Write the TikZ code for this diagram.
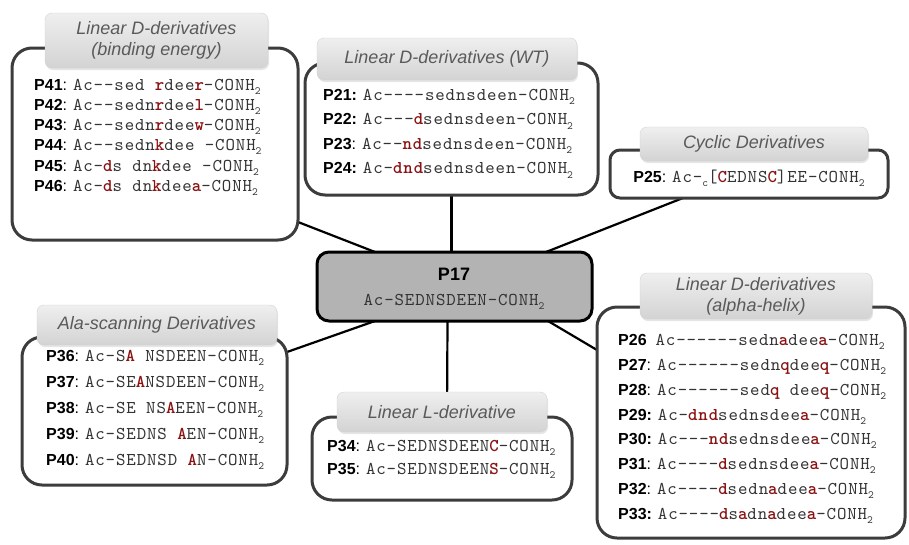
\documentclass[tikz,border=0pt]{standalone}
\usepackage{fontspec}
\setmainfont{Liberation Sans}
\setsansfont{Liberation Sans}
\newfontfamily\seqfont{lmmono10-regular.otf}[BoldFont=lmmonolt10-bold.otf,LetterSpace=5,Ligatures=TeXOff]
\usetikzlibrary{backgrounds,shadows}
\definecolor{boxline}{HTML}{3C3C3C}
\definecolor{dred}{HTML}{8A1212}
\definecolor{seqgray}{HTML}{333333}
\definecolor{titlegray}{HTML}{5A5A5A}
\definecolor{lbltop}{HTML}{EFEFEF}
\definecolor{lblbot}{HTML}{D3D3D3}
\definecolor{ctfill}{HTML}{B3B3B3}
\newcommand\rb[1]{{\bfseries\color{dred}#1}}
\newcommand\subtwo{\raisebox{-4.5pt}{\fontsize{11}{11}\selectfont 2}}
\newcommand\cnh{-CONH\subtwo}
\newcommand\sq[1]{{\seqfont\fontsize{18}{20}\selectfont\color{seqgray}#1}}
\tikzset{
  outerbox/.style={draw=boxline, line width=3pt, rounded corners=20pt, fill=white, inner sep=0pt, outer sep=0pt},
  lblbox/.style={rounded corners=7pt, top color=lbltop, bottom color=lblbot, draw=lblbot, line width=0.4pt,
    drop shadow={shadow xshift=1pt, shadow yshift=-2pt, opacity=0.2},
    font=\fontsize{18}{21}\selectfont\itshape, text=titlegray, align=center, inner sep=0pt},
  row/.style={anchor=base west, inner sep=0pt, font=\fontsize{16}{18}\selectfont, text=black},
  conn/.style={line width=2.2pt, black}
}
\begin{document}
\begin{tikzpicture}[x=1pt,y=-1pt]
\useasboundingbox (0,0) rectangle (909,544);
% outer boxes
\node[outerbox, minimum width=286pt, minimum height=192pt] (tl) at (155,144) {};
\node[outerbox, minimum width=293pt, minimum height=132pt] (tm) at (451.5,129) {};
\node[outerbox, rounded corners=10pt, minimum width=278pt, minimum height=48pt] (cy) at (749,174) {};
\node[outerbox, draw=black, fill=ctfill, rounded corners=12pt, minimum width=275pt, minimum height=69pt] (ct) at (454.5,286.5) {};
\node[outerbox, minimum width=265pt, minimum height=148pt] (bl) at (154.5,411) {};
\node[outerbox, minimum width=260pt, minimum height=83pt] (bm) at (442,458.5) {};
\node[outerbox, minimum width=308pt, minimum height=231pt] (br) at (751,422.5) {};
% label boxes
\node[lblbox, minimum width=223pt, minimum height=55pt] (tll) at (156.5,40.5) {Linear D-derivatives\\(binding energy)};
\node[lblbox, minimum width=260pt, minimum height=42pt] (tml) at (447,59) {Linear D-derivatives (WT)};
\node[lblbox, minimum width=228pt, minimum height=34pt] (cyl) at (754,144) {Cyclic Derivatives};
\node[lblbox, minimum width=240pt, minimum height=40pt] (bll) at (157,325) {Ala-scanning Derivatives};
\node[lblbox, minimum width=210pt, minimum height=40pt] (bml) at (442,412) {Linear L-derivative};
\node[lblbox, minimum width=232pt, minimum height=46pt] (brl) at (756,296) {Linear D-derivatives\\(alpha-helix)};
% center
\node[anchor=base, inner sep=0pt, font=\bfseries\fontsize{18}{20}\selectfont] (p17) at (454,280) {P17};
\node[anchor=base, inner sep=0pt] (p17s) at (454,305) {\sq{Ac-SEDNSDEEN\cnh}};
% top left rows
\node[row] (p41) at (34,90) {\textbf{P41}: \sq{Ac--sed \rb{r}dee\rb{r}\cnh}};
\node[row] (p42) at (34,110) {\textbf{P42}: \sq{Ac--sedn\rb{r}dee\rb{l}\cnh}};
\node[row] (p43) at (34,130) {\textbf{P43}: \sq{Ac--sedn\rb{r}dee\rb{w}\cnh}};
\node[row] (p44) at (34,150) {\textbf{P44}: \sq{Ac--sedn\rb{k}dee -CONH\subtwo}};
\node[row] (p45) at (34,171) {\textbf{P45}: \sq{Ac-\rb{d}s dn\rb{k}dee -CONH\subtwo}};
\node[row] (p46) at (34,191) {\textbf{P46}: \sq{Ac-\rb{d}s dn\rb{k}dee\rb{a}\cnh}};
% top middle rows
\node[row] (p21) at (323,100) {\textbf{P21:} \sq{Ac----sednsdeen\cnh}};
\node[row] (p22) at (323,124.5) {\textbf{P22:} \sq{Ac---\rb{d}sednsdeen\cnh}};
\node[row] (p23) at (323,149) {\textbf{P23}: \sq{Ac--\rb{nd}sednsdeen\cnh}};
\node[row] (p24) at (323,173.5) {\textbf{P24:} \sq{Ac-\rb{dnd}sednsdeen\cnh}};
% cyclic
\node[anchor=base, inner sep=0pt, font=\fontsize{16}{18}\selectfont] (p25) at (749,182) {\textbf{P25}: \sq{Ac-\raisebox{-4.5pt}{\fontsize{11}{11}\selectfont c}[\rb{C}EDNS\rb{C}]EE\cnh}};
% bottom left rows
\node[row] (p36) at (46,361) {\textbf{P36}: \sq{Ac-S\rb{A} NSDEEN\cnh}};
\node[row] (p37) at (46,387) {\textbf{P37}: \sq{Ac-SE\rb{A}NSDEEN\cnh}};
\node[row] (p38) at (46,413) {\textbf{P38}: \sq{Ac-SE NS\rb{A}EEN\cnh}};
\node[row] (p39) at (46,439) {\textbf{P39}: \sq{Ac-SEDNS \rb{A}EN\cnh}};
\node[row] (p40) at (46,465) {\textbf{P40}: \sq{Ac-SEDNSD \rb{A}N\cnh}};
% bottom middle rows
\node[row] (p34) at (327,451) {\textbf{P34}: \sq{Ac-SEDNSDEEN\rb{C}\cnh}};
\node[row] (p35) at (327,474) {\textbf{P35}: \sq{Ac-SEDNSDEEN\rb{S}\cnh}};
% bottom right rows
\node[row] (p26) at (618,345) {\textbf{P26}\ \ \sq{Ac------sedn\rb{a}dee\rb{a}\cnh}};
\node[row] (p27) at (618,370) {\textbf{P27}: \sq{Ac------sedn\rb{q}dee\rb{q}\cnh}};
\node[row] (p28) at (618,395) {\textbf{P28}: \sq{Ac------sed\rb{q} dee\rb{q}\cnh}};
\node[row] (p29) at (618,420) {\textbf{P29:} \sq{Ac-\rb{dnd}sednsdee\rb{a}\cnh}};
\node[row] (p30) at (618,444) {\textbf{P30:} \sq{Ac---\rb{nd}sednsdee\rb{a}\cnh}};
\node[row] (p31) at (618,469) {\textbf{P31}: \sq{Ac----\rb{d}sednsdee\rb{a}\cnh}};
\node[row] (p32) at (618,494) {\textbf{P32}: \sq{Ac----\rb{d}sedn\rb{a}dee\rb{a}\cnh}};
\node[row] (p33) at (618,519) {\textbf{P33:} \sq{Ac----\rb{d}s\rb{a}dn\rb{a}dee\rb{a}\cnh}};
% connectors
\begin{pgfonlayer}{background}
\fill[white] (0,0) rectangle (909,544);
\draw[conn] ([yshift=-78pt]tl.east) -- ([xshift=58pt]ct.north west);
\draw[conn] (tm.south) -- ([xshift=-3pt]ct.north);
\draw[conn] ([xshift=-66pt]cy.south) -- ([xshift=-46pt]ct.north east);
\draw[conn] ([yshift=-15pt]bl.north east) -- ([xshift=58pt]ct.south west);
\draw[conn] ([xshift=5pt]bm.north) -- ([xshift=-7pt]ct.south);
\draw[conn] ([yshift=-43pt]br.north west) -- ([xshift=-44pt]ct.south east);
\end{pgfonlayer}
\end{tikzpicture}
\end{document}
